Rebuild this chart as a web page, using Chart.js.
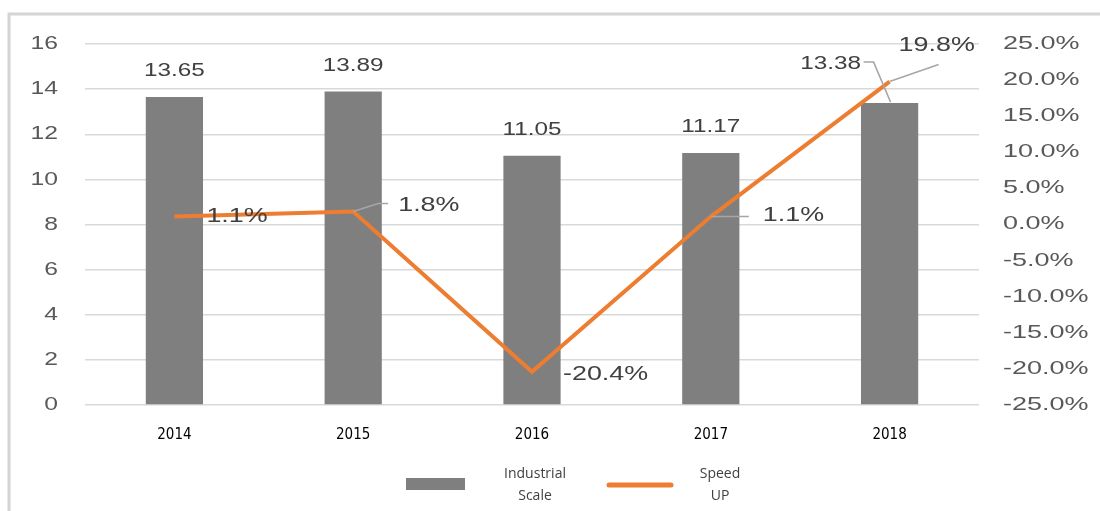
<!DOCTYPE html>
<html>
<head>
<meta charset="utf-8">
<script src="https://cdn.jsdelivr.net/npm/chart.js@4/dist/chart.umd.min.js"></script>
<style>
  html, body { margin: 0; padding: 0; background: #ffffff; }
  #wrap { width: 1100px; height: 511px; position: relative; }
</style>
</head>
<body>
<div id="wrap"><canvas id="c" width="1100" height="511"></canvas></div>
<script>
// ---- data ----
const years = ['2014', '2015', '2016', '2017', '2018'];
const industrialScale = [13.65, 13.89, 11.05, 11.17, 13.38];
const speedUp = [1.1, 1.8, -20.4, 1.1, 19.8];
const leftTicks = [0, 2, 4, 6, 8, 10, 12, 14, 16];
const rightTicks = [-25, -20, -15, -10, -5, 0, 5, 10, 15, 20, 25];
const seriesNames = [['Industrial', 'Scale'], ['Speed', 'UP']];

// ---- style ----
const BAR_COLOR = '#7f7f7f';
const LINE_COLOR = '#ed7d31';
const GRID_COLOR = '#d9d9d9';
const TICK_COLOR = '#595959';
const LABEL_COLOR = '#404040';
const LEADER_COLOR = '#a6a6a6';
const FONT = '"Liberation Sans", Arial, sans-serif';
// line label placement: [dx, dy] from point to label left/middle, leader polyline (relative)
const lineLabelPos = [
  { dx: 32, dy: 0, leader: null },
  { dx: 45, dy: -6, leader: [[0, 0], [25, -8], [35, -8]] },
  { dx: 31, dy: 2, leader: null },
  { dx: 52, dy: -1, leader: [[0, 0], [38, 0]] },
  { dx: 9, dy: -36, leader: [[0, 0], [49, -17]] }
];

function drawText(ctx, text, x, y, align, size, sx, color, family) {
  ctx.save();
  ctx.font = size + 'px ' + (family || FONT);
  ctx.fillStyle = color;
  ctx.textBaseline = 'middle';
  ctx.textAlign = align;
  ctx.translate(x, y);
  ctx.scale(sx, 1);
  ctx.fillText(text, 0, 0);
  ctx.restore();
}

const customDraw = {
  id: 'customDraw',
  afterDraw(chart) {
    const ctx = chart.ctx;
    const y = chart.scales.y, y1 = chart.scales.y1, x = chart.scales.x;

    // frame
    ctx.save();
    ctx.strokeStyle = '#d4d4d4';
    ctx.lineWidth = 3;
    ctx.beginPath();
    ctx.moveTo(9, 511); ctx.lineTo(9, 14); ctx.lineTo(1100, 14);
    ctx.stroke();
    ctx.restore();

    // left ticks
    leftTicks.forEach(v => {
      drawText(ctx, String(v), 58, y.getPixelForValue(v), 'right', 19, 1.3, TICK_COLOR);
    });
    // right ticks
    rightTicks.forEach(v => {
      drawText(ctx, v.toFixed(1) + '%', 1003, y1.getPixelForValue(v), 'left', 18, 1.5, TICK_COLOR);
    });
    // x labels
    years.forEach((yr, i) => {
      drawText(ctx, yr, x.getPixelForValue(i), 435, 'center', 15, 1.0, '#000000',
        '"Liberation Sans Narrow", "DejaVu Sans Condensed", ' + FONT);
    });

    // bar labels
    const barMeta = chart.getDatasetMeta(0);
    barMeta.data.forEach((bar, i) => {
      let lx = bar.x, ly = bar.y - 26;
      if (i === 4) { lx = bar.x - 59; ly = bar.y - 39; }
      drawText(ctx, industrialScale[i].toFixed(2), lx, ly, 'center', 18, 1.35, LABEL_COLOR);
    });
    // leader for 2018 bar label
    const b4 = barMeta.data[4];
    ctx.save();
    ctx.strokeStyle = LEADER_COLOR;
    ctx.lineWidth = 1.5;
    ctx.beginPath();
    ctx.moveTo(b4.x - 26, b4.y - 41);
    ctx.lineTo(b4.x - 16, b4.y - 41);
    ctx.lineTo(b4.x + 1, b4.y - 1);
    ctx.stroke();
    ctx.restore();

    // line labels
    const lineMeta = chart.getDatasetMeta(1);
    lineMeta.data.forEach((pt, i) => {
      const p = lineLabelPos[i];
      if (p.leader) {
        ctx.save();
        ctx.strokeStyle = LEADER_COLOR;
        ctx.lineWidth = 1.5;
        ctx.beginPath();
        p.leader.forEach((q, k) => {
          if (k === 0) ctx.moveTo(pt.x + q[0], pt.y + q[1]);
          else ctx.lineTo(pt.x + q[0], pt.y + q[1]);
        });
        ctx.stroke();
        ctx.restore();
      }
      drawText(ctx, speedUp[i].toFixed(1) + '%', pt.x + p.dx, pt.y + p.dy, 'left', 21, 1.28, LABEL_COLOR);
    });

    // legend
    ctx.save();
    ctx.fillStyle = BAR_COLOR;
    ctx.fillRect(406, 478, 59, 12);
    ctx.strokeStyle = LINE_COLOR;
    ctx.lineWidth = 5;
    ctx.lineCap = 'round';
    ctx.beginPath();
    ctx.moveTo(609, 485); ctx.lineTo(671, 485);
    ctx.stroke();
    ctx.restore();
    const lf = '"Open Sans", "Noto Sans", sans-serif';
    drawText(ctx, seriesNames[0][0], 535, 474, 'center', 14, 1, '#404040', lf);
    drawText(ctx, seriesNames[0][1], 535, 496, 'center', 14, 1, '#404040', lf);
    drawText(ctx, seriesNames[1][0], 720, 474, 'center', 14, 1, '#404040', lf);
    drawText(ctx, seriesNames[1][1], 720, 496, 'center', 14, 1, '#404040', lf);
  }
};

new Chart(document.getElementById('c'), {
  data: {
    labels: years,
    datasets: [
      {
        type: 'bar',
        label: seriesNames[0].join(' '),
        data: industrialScale,
        backgroundColor: BAR_COLOR,
        yAxisID: 'y',
        categoryPercentage: 1.0,
        barPercentage: 0.32,
        order: 2
      },
      {
        type: 'line',
        label: seriesNames[1].join(' '),
        data: speedUp,
        borderColor: LINE_COLOR,
        backgroundColor: LINE_COLOR,
        borderWidth: 4,
        pointRadius: 0,
        tension: 0,
        yAxisID: 'y1',
        order: 1
      }
    ]
  },
  options: {
    responsive: false,
    animation: false,
    devicePixelRatio: 1,
    layout: { padding: { top: 44, left: 0, right: 0, bottom: 0 } },
    plugins: { legend: { display: false }, tooltip: { enabled: false } },
    scales: {
      x: {
        grid: { display: false, drawTicks: false },
        border: { display: false },
        ticks: { display: false },
        afterFit(s) { s.height = 106; }
      },
      y: {
        position: 'left',
        min: 0, max: 16,
        ticks: { stepSize: 2, display: false },
        grid: { color: GRID_COLOR, lineWidth: 1.5, drawTicks: false },
        border: { display: false },
        afterFit(s) { s.width = 85; }
      },
      y1: {
        position: 'right',
        min: -25, max: 25,
        ticks: { stepSize: 5, display: false },
        grid: { display: false, drawTicks: false },
        border: { display: false },
        afterFit(s) { s.width = 121; }
      }
    }
  },
  plugins: [customDraw]
});
</script>
</body>
</html>
